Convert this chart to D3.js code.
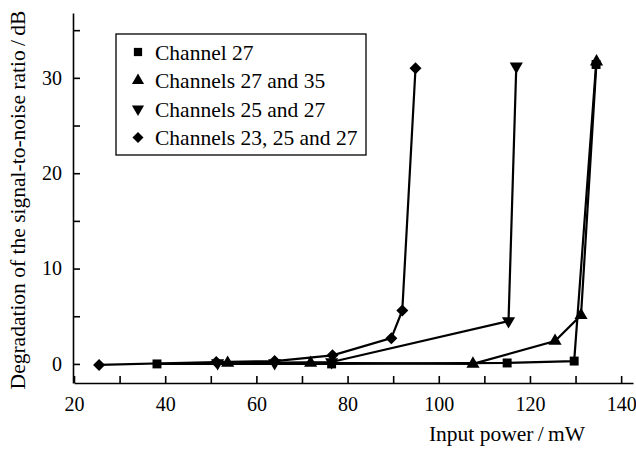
<!DOCTYPE html>
<html>
<head>
<meta charset="utf-8">
<script src="https://cdn.jsdelivr.net/npm/d3@7"></script>
<style>
  body { margin: 0; background: #fff; }
  text { font-family: "Liberation Serif", "DejaVu Serif", serif; fill: #000; }
</style>
</head>
<body>
<div id="chart"></div>
<script>
var svgWidth = 636;
var svgHeight = 450;

// Series (input power in mW, degradation in dB)
var ch27X = [38.2, 76.5, 115, 129.7, 134.5];
var ch27Y = [0, 0, 0.1, 0.3, 31.4];

var ch27_35X = [53.7, 71.9, 107.5, 125.5, 131.2, 134.6];
var ch27_35Y = [0.1, 0.1, 0, 2.4, 5.1, 31.7];

var ch25_27X = [51.5, 64, 76.5, 115.3, 117];
var ch25_27Y = [0.1, 0.1, 0.2, 4.5, 31.2];

var ch23_25_27X = [25.5, 51.2, 64, 76.7, 89.6, 92, 94.9];
var ch23_25_27Y = [-0.1, 0.2, 0.3, 0.9, 2.7, 5.6, 31.0];

var seriesNames = ["Channel 27", "Channels 27 and 35", "Channels 25 and 27", "Channels 23, 25 and 27"];
var xTicks = [20, 30, 40, 50, 60, 70, 80, 90, 100, 110, 120, 130, 140];
var xLabels = [20, 40, 60, 80, 100, 120, 140];
var yTicks = [0, 5, 10, 15, 20, 25, 30, 35];
var yLabels = [0, 10, 20, 30];

var serif = "'Liberation Serif', 'DejaVu Serif', serif";

var svg = d3.select("#chart")
  .append("svg")
  .attr("width", svgWidth)
  .attr("height", svgHeight);

var xScale = d3.scaleLinear().domain([20, 142.6]).range([74, 633]);
var yScale = d3.scaleLinear().domain([-2, 36.8]).range([383, 13]);

// x axis, ticks pointing up into the plot
var bottomAxis = d3.axisBottom(xScale)
  .tickValues(xTicks)
  .tickSize(-7)
  .tickSizeOuter(0)
  .tickPadding(14)
  .tickFormat(d => xLabels.indexOf(d) >= 0 ? d : "");

svg.append("g")
  .attr("transform", "translate(0,383)")
  .call(bottomAxis)
  .attr("font-family", serif)
  .attr("font-size", 20);

// y axis, ticks pointing right
var leftAxis = d3.axisLeft(yScale)
  .tickValues(yTicks)
  .tickSize(-7)
  .tickSizeOuter(0)
  .tickPadding(11)
  .tickFormat(d => yLabels.indexOf(d) >= 0 ? d : "");

svg.append("g")
  .attr("transform", "translate(73,0)")
  .call(leftAxis)
  .attr("font-family", serif)
  .attr("font-size", 20);

svg.selectAll(".domain, .tick line")
  .attr("stroke", "#000")
  .attr("stroke-width", 1.6);

// axis titles
svg.append("text")
  .attr("x", 507)
  .attr("y", 441)
  .attr("text-anchor", "middle")
  .attr("font-family", serif)
  .style("font-size", "21.5px")
  .text("Input power\u2009/\u2009mW");

svg.append("text")
  .attr("transform", "translate(25,200) rotate(-90)")
  .attr("text-anchor", "middle")
  .attr("font-family", serif)
  .style("font-size", "21.5px")
  .text("Degradation of the signal-to-noise ratio\u2009/\u2009dB");

// marker shapes
var markers = [
  { type: d3.symbolSquare, size: 80, rotate: 0 },
  { type: d3.symbolTriangle, size: 75, rotate: 0 },
  { type: d3.symbolTriangle, size: 75, rotate: 180 },
  { type: d3.symbolSquare, size: 72, rotate: 45 }
];

var allSeries = [
  d3.zip(ch27X, ch27Y),
  d3.zip(ch27_35X, ch27_35Y),
  d3.zip(ch25_27X, ch25_27Y),
  d3.zip(ch23_25_27X, ch23_25_27Y)
];

var line = d3.line()
  .x(d => xScale(d[0]))
  .y(d => yScale(d[1]));

// draw order: lines first, then markers (diamonds last on top)
allSeries.forEach(function(data) {
  svg.append("path")
    .datum(data)
    .attr("fill", "none")
    .attr("stroke", "#000")
    .attr("stroke-width", 2.2)
    .attr("d", line);
});

allSeries.forEach(function(data, i) {
  var m = markers[i];
  svg.selectAll(".m" + i)
    .data(data)
    .enter()
    .append("path")
    .attr("class", "m" + i)
    .attr("d", d3.symbol().type(m.type).size(m.size))
    .attr("transform", d => `translate(${xScale(d[0])},${yScale(d[1])}) rotate(${m.rotate})`)
    .attr("fill", "#000");
});

// legend
var legend = svg.append("g");
legend.append("rect")
  .attr("x", 116)
  .attr("y", 34)
  .attr("width", 250)
  .attr("height", 121)
  .attr("fill", "#fff")
  .attr("stroke", "#000")
  .attr("stroke-width", 1.3);

seriesNames.forEach(function(name, i) {
  var cy = 52 + i * 28.5;
  var m = markers[i];
  legend.append("path")
    .attr("d", d3.symbol().type(m.type).size(m.size * 0.85))
    .attr("transform", `translate(138,${cy}) rotate(${m.rotate})`)
    .attr("fill", "#000");
  legend.append("text")
    .attr("x", 155)
    .attr("y", cy)
    .attr("dy", "0.35em")
    .attr("font-family", serif)
    .style("font-size", "21.5px")
    .text(name);
});
</script>
</body>
</html>
